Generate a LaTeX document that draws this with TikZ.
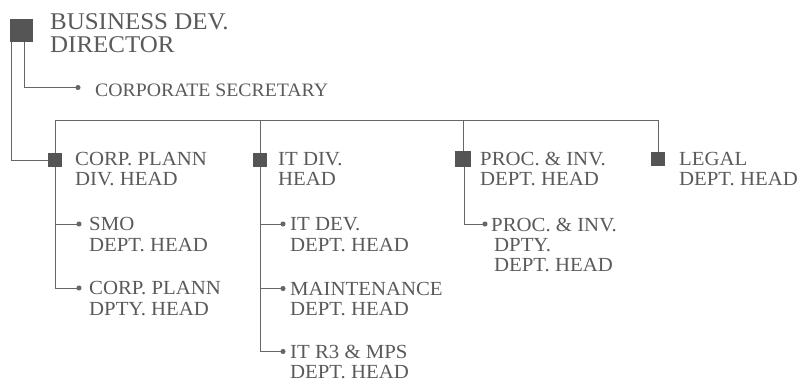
\documentclass[tikz,border=0pt]{standalone}
\usepackage{fontspec}
\setmainfont{Liberation Serif}[FakeStretch=1.04]
\usepackage{xcolor}
\definecolor{chartInk}{HTML}{5A5A5A}
\definecolor{chartLine}{HTML}{666666}
\definecolor{chartBox}{HTML}{555555}
\usepackage{tikz}
\usetikzlibrary{arrows.meta,positioning}
\tikzset{
  orgbox/.style={
    fill=chartBox,
    draw=none,
    minimum size=14pt,
    inner sep=0pt
  },
  orgtitle/.style={
    text=chartInk,
    anchor=north west,
    align=left,
    inner sep=0pt,
    font=\fontsize{24pt}{23pt}\selectfont
  },
  orglabel/.style={
    text=chartInk,
    anchor=north west,
    align=left,
    inner sep=0pt,
    font=\fontsize{20pt}{20.3pt}\selectfont
  },
  orgline/.style={
    draw=chartLine,
    line width=1pt
  },
  orgbranch/.style={
    draw=chartLine,
    line width=1pt,
    -{Circle[length=5pt]}
  }
}

\begin{document}
\begin{tikzpicture}[x=1pt,y=-1pt]
  \useasboundingbox (0,0) rectangle (806,383);
  % director and secretary
  \node[orgbox,minimum size=23pt] (dir) at (21.5,30.5) {};
  \node[orgtitle] (dirtxt) at (50,13.5) {BUSINESS DEV.\\DIRECTOR};
  \node[orglabel,font=\fontsize{19pt}{20pt}\selectfont] (sec) at (95,84) {CORPORATE SECRETARY};
  % division heads
  \node[orgbox] (corp) at (55,160) {};
  \node[orgbox] (it) at (260,160) {};
  \node[orgbox,minimum size=16pt] (proc) at (463,159) {};
  \node[orgbox] (legal) at (658,159) {};
  \node[orglabel] (corptxt) at (75,152) {CORP. PLANN\\DIV. HEAD};
  \node[orglabel] (ittxt) at (278,152) {IT DIV.\\HEAD};
  \node[orglabel] (proctxt) at (480,152) {PROC. \& INV.\\DEPT. HEAD};
  \node[orglabel] (legaltxt) at (679,152) {LEGAL\\DEPT. HEAD};
  % department heads
  \node[orglabel] (smo) at (89,217.5) {SMO\\DEPT. HEAD};
  \node[orglabel] (cpdpty) at (89,281.5) {CORP. PLANN\\DPTY. HEAD};
  \node[orglabel] (itdev) at (290,217.5) {IT DEV.\\DEPT. HEAD};
  \node[orglabel] (maint) at (290,282) {MAINTENANCE\\DEPT. HEAD};
  \node[orglabel] (itrt) at (290,345) {IT R3 \& MPS\\DEPT. HEAD};
  \node[orglabel] (pdpty) at (491,217.5) {PROC. \& INV.\\\hspace{3pt}DPTY.\\\hspace{3pt}DEPT. HEAD};
  % bus
  \coordinate (busL) at (55,120);
  \coordinate (busR) at (658,120);
  \draw[orgline] (corp.north) -- (busL) -- (busR) -- (legal.north);
  \foreach \col in {it,proc}{\draw[orgline] (\col.north) -- (\col |- busL);}
  \draw[orgline] ([xshift=-10pt]dir.south) |- (corp.west);
  \draw[orgbranch] ([xshift=2.5pt]dir.south) |- ([xshift=-14.5pt,yshift=-3.5pt]sec.north west);
  \foreach \col/\target in {corp/smo,corp/cpdpty}
    {\draw[orgbranch] (\col.south) |- ([xshift=-7.5pt,yshift=-6.5pt]\target.north west);}
  \foreach \target in {itdev,maint,itrt}
    {\draw[orgbranch] (it.south) |- ([xshift=-4.5pt,yshift=-6.5pt]\target.north west);}
  \draw[orgbranch] ([xshift=1pt]proc.south) |- ([xshift=-3.5pt,yshift=-6.5pt]pdpty.north west);
\end{tikzpicture}
\end{document}
